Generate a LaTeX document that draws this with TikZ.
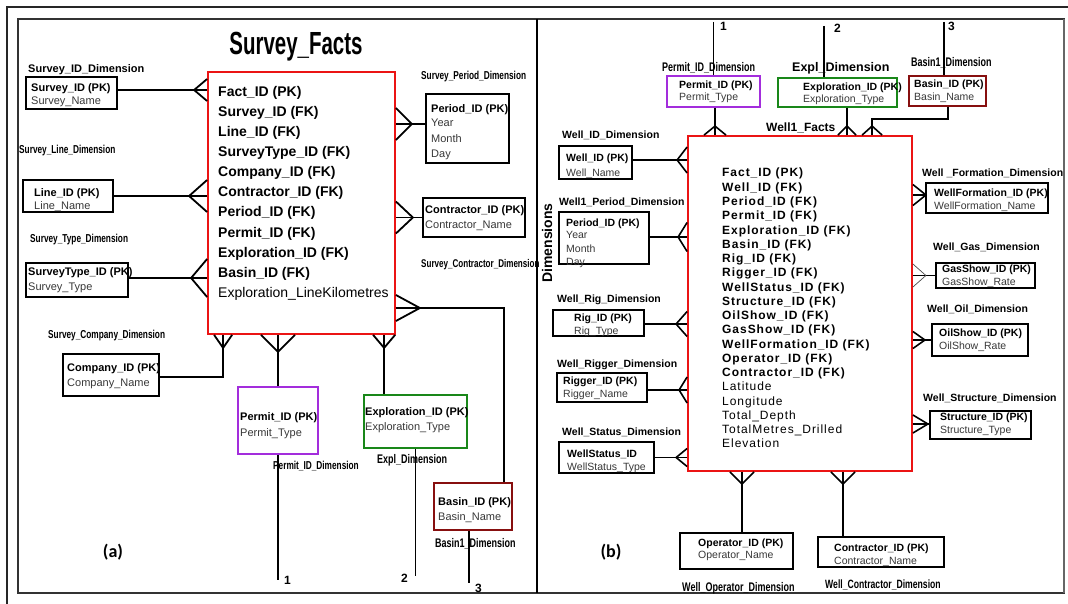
\documentclass[tikz,border=0pt]{standalone}
\usepackage{fontspec}
\setmainfont{Liberation Sans}
\newfontfamily\narrowfont[FakeStretch=0.72]{Liberation Sans}
\newfontfamily\titlefont[FakeStretch=0.64]{Liberation Sans}
\newfontfamily\spacedfont[LetterSpace=8]{Liberation Sans}
\newfontfamily\tagfont{Carlito}
\usetikzlibrary{calc}

\definecolor{permitcol}{RGB}{163,45,220}
\definecolor{explcol}{RGB}{25,135,25}
\definecolor{basincol}{RGB}{135,15,15}
\definecolor{subcol}{RGB}{55,55,55}
\definecolor{factcol}{RGB}{235,20,20}

\tikzset{
  every node/.style={inner sep=0pt},
  lkey/.style={anchor=base west, font=\bfseries\fontsize{11}{11}\selectfont},
  lattr/.style={anchor=base west, text=subcol, font=\fontsize{11}{11}\selectfont},
  rkey/.style={anchor=base west, font=\bfseries\fontsize{10.5}{10.5}\selectfont},
  rattr/.style={anchor=base west, text=subcol, font=\fontsize{10.5}{10.5}\selectfont},
  nlabel/.style={anchor=base west, font=\narrowfont\bfseries\fontsize{11.5}{11.5}\selectfont},
  wlabel/.style={anchor=base west, font=\bfseries\fontsize{10.5}{10.5}\selectfont},
  lfield/.style={anchor=base west, font=\bfseries\fontsize{14}{14}\selectfont},
  rfield/.style={anchor=base west, font=\spacedfont\bfseries\fontsize{12}{12}\selectfont},
  num/.style={anchor=base west, font=\bfseries\fontsize{12}{12}\selectfont},
  tag/.style={font=\tagfont\bfseries\fontsize{18}{18}\selectfont},
  lbox/.style={draw, line width=1.8pt},
  rbox/.style={draw, line width=1.5pt},
  factbox/.style={draw=factcol, line width=1.8pt},
  conn/.style={line width=1.8pt},
  rconn/.style={line width=1.6pt},
  pics/crowh/.style 2 args={code={\draw (#1,#2) -- (0,0) -- (#1,-#2);}},
  pics/crowv/.style 2 args={code={\draw (#2,#1) -- (0,0) -- (-#2,#1);}},
}

% entity box given by its corners: name, style, x1, y1, x2, y2
\newcommand{\entity}[6]{%
  \pgfmathsetmacro\ew{#5-#3}\pgfmathsetmacro\eh{#6-#4}%
  \pgfmathsetmacro\ecx{(#3+#5)/2}\pgfmathsetmacro\ecy{(#4+#6)/2}%
  \node[#2, minimum width=\ew pt, minimum height=\eh pt] (#1) at (\ecx,\ecy) {};}

\begin{document}
\begin{tikzpicture}[x=1pt,y=-1pt]
\useasboundingbox (0,0) rectangle (1068,604);

% frames
\draw[line width=2pt, black!85] (7,604) -- (7,7) -- (1068,7);
\draw[line width=1.1pt, black!80] (18,19) rectangle (1064,593);
\draw[line width=2.4pt, black!60] (1064,19) -- (1064,593);
\draw[line width=1.2pt] (537,19) -- (537,593);

% ================= (a) Survey facts =================
\node[anchor=base, font=\titlefont\bfseries\fontsize{32}{32}\selectfont] (title) at (296,55) {Survey\_Facts};
\entity{sfact}{factbox}{208}{72}{395}{334}
\foreach \t [count=\i from 0] in {Fact\_ID (PK), Survey\_ID (FK), Line\_ID (FK), SurveyType\_ID (FK),
  Company\_ID (FK), Contractor\_ID (FK), Period\_ID (FK), Permit\_ID (FK), Exploration\_ID (FK), Basin\_ID (FK)}
  \node[lfield] (sf\i) at (218,{97+20*\i}) {\t};
\node[lfield, font=\fontsize{14}{14}\selectfont] (sfkm) at (218,297) {Exploration\_LineKilometres};

\entity{sidbox}{lbox}{26}{77}{117}{109}
\entity{linebox}{lbox}{23}{180}{113}{212}
\entity{typebox}{lbox}{26}{263}{128}{297}
\entity{compbox}{lbox}{63}{354}{159}{396}
\entity{perbox}{lbox}{426}{94}{509}{163}
\entity{conbox}{lbox}{423}{198}{525}{237}
\entity{pmtbox}{lbox,draw=permitcol}{238}{387}{318}{454}
\entity{expbox}{lbox,draw=explcol}{364}{395}{467}{448}
\entity{basbox}{lbox,draw=basincol}{434}{483}{512}{530}

\node[wlabel, font=\bfseries\fontsize{11}{11}\selectfont] (lsid) at (28,73) {Survey\_ID\_Dimension};
\node[nlabel] (lline) at (19,154) {Survey\_Line\_Dimension};
\node[nlabel] (ltype) at (30,242) {Survey\_Type\_Dimension};
\node[nlabel] (lcomp) at (48,338) {Survey\_Company\_Dimension};
\node[nlabel] (lper) at (421,80) {Survey\_Period\_Dimension};
\node[nlabel, font=\narrowfont\bfseries\fontsize{11.2}{11.2}\selectfont] (lcon) at (421,267) {Survey\_Contractor\_Dimension};
\node[nlabel] (lpmt) at (273,469) {Permit\_ID\_Dimension};
\node[nlabel, font=\narrowfont\bfseries\fontsize{12.5}{12.5}\selectfont] (lexp) at (377,463) {Expl\_Dimension};
\node[nlabel, font=\narrowfont\bfseries\fontsize{12.5}{12.5}\selectfont] (lbas) at (435,547) {Basin1\_Dimension};

\node[lkey] (sidk) at (31,92) {Survey\_ID (PK)};
\node[lattr] (sida) at (31,105) {Survey\_Name};
\node[lkey] (linek) at (34,197) {Line\_ID (PK)};
\node[lattr] (linea) at (34,210) {Line\_Name};
\node[lkey] (typek) at (28,275) {SurveyType\_ID (PK)};
\node[lattr] (typea) at (28,290) {Survey\_Type};
\node[lkey] (compk) at (67,371) {Company\_ID (PK)};
\node[lattr] (compa) at (67,386) {Company\_Name};
\node[lkey] (perk) at (431,113) {Period\_ID (PK)};
\node[lattr] (pera) at (431,127) {Year};
\node[lattr] (perb) at (431,143) {Month};
\node[lattr] (perc) at (431,158) {Day};
\node[lkey] (conk) at (425,214) {Contractor\_ID (PK)};
\node[lattr] (cona) at (425,229) {Contractor\_Name};
\node[lkey] (pmtk) at (240,420) {Permit\_ID (PK)};
\node[lattr] (pmta) at (240,436) {Permit\_Type};
\node[lkey] (expk) at (365,415) {Exploration\_ID (PK)};
\node[lattr] (expa) at (365,430) {Exploration\_Type};
\node[lkey] (bask) at (438,505) {Basin\_ID (PK)};
\node[lattr] (basa) at (438,520) {Basin\_Name};

% connectors of the survey star
\draw[conn] ($(sidbox.east)+(0,-3)$) -- ($(sidbox.east -| sfact.west)+(0,-3)$);
\pic[conn] at ($(sidbox.east -| sfact.west)+(-13,-3)$) {crowh={13}{11}};
\draw[conn] (linebox.east) -- (linebox.east -| sfact.west);
\pic[conn] at ($(linebox.east -| sfact.west)+(-18,0)$) {crowh={18}{16}};
\draw[conn] ($(typebox.east)+(0,-2)$) -- ($(typebox.east -| sfact.west)+(0,-2)$);
\pic[conn] at ($(typebox.east -| sfact.west)+(-16,-2)$) {crowh={16}{19}};
\draw[conn] ($(compbox.east)+(0,2)$) -| ($(sfact.south west)+(16,0)$);
\pic[conn] at ($(sfact.south west)+(16,13)$) {crowv={-13}{9}};
\draw[conn] ($(perbox.west)+(0,-4.5)$) -- ($(perbox.west -| sfact.east)+(0,-4.5)$);
\pic[conn] at ($(perbox.west -| sfact.east)+(16,-4.5)$) {crowh={-16}{16}};
\draw[conn] (conbox.west) -- (conbox.west -| sfact.east);
\pic[conn] at ($(conbox.west -| sfact.east)+(17,0)$) {crowh={-17}{16}};
\draw[conn] ($(sfact.east)+(0,105)$) -| ($(basbox.north east)+(-9,0)$);
\pic[conn] at ($(sfact.east)+(24,105)$) {crowh={-24}{13}};
\draw[conn] (pmtbox.north) -- (pmtbox.north |- sfact.south);
\pic[conn] at ($(pmtbox.north |- sfact.south)+(0,17)$) {crowv={-17}{17}};
\draw[conn] ($(expbox.north west)+(21,0)$) -- ($(expbox.north west |- sfact.south)+(21,0)$);
\pic[conn] at ($(expbox.north west |- sfact.south)+(21,13)$) {crowv={-13}{11}};

% links continued in panel (b)
\coordinate (end1) at (278,580);
\coordinate (end2) at (415.5,576);
\coordinate (end3) at (469,583);
\draw[conn] (pmtbox.south) -- (end1);
\draw[line width=1.2pt] (expbox.south) -- (end2);
\draw[line width=1.5pt] ($(basbox.south)+(-4,0)$) -- (end3);
\node[num] (n1) at (284,584) {1};
\node[num] (n2) at (401,582) {2};
\node[num] (n3) at (475,592) {3};

\node[tag] (taga) at (113,552) {(a)};

% ================= (b) Well facts =================
\entity{wfact}{factbox}{688}{136}{912}{471}
\node[wlabel, font=\bfseries\fontsize{12}{12}\selectfont] (lwf) at (766,132) {Well1\_Facts};
\foreach \t [count=\i from 0] in {Fact\_ID (PK), Well\_ID (FK), Period\_ID (FK), Permit\_ID (FK),
  Exploration\_ID (FK), Basin\_ID (FK), Rig\_ID (FK), Rigger\_ID (FK), WellStatus\_ID (FK),
  Structure\_ID (FK), OilShow\_ID (FK), GasShow\_ID (FK), WellFormation\_ID (FK),
  Operator\_ID (FK), Contractor\_ID (FK)}
  \node[rfield] (wf\i) at (722,{177+14.25*\i}) {\t};
\foreach \t [count=\i from 15] in {Latitude, Longitude, Total\_Depth, TotalMetres\_Drilled, Elevation}
  \node[rfield, font=\spacedfont\fontsize{12}{12}\selectfont] (wf\i) at (722,{177+14.25*\i}) {\t};

\entity{rpmt}{rbox,draw=permitcol}{667}{76}{760}{107}
\entity{rexp}{rbox,draw=explcol}{778}{78}{897}{107}
\entity{rbas}{rbox,draw=basincol}{909}{76}{986}{106}
\entity{wid}{rbox}{559}{146}{632}{179}
\entity{wper}{rbox}{559}{212}{649}{264}
\entity{wrig}{rbox}{553}{310}{644}{336}
\entity{wrgr}{rbox}{557}{373}{647}{402}
\entity{wst}{rbox}{559}{442}{654}{473}
\entity{wfm}{rbox}{926}{183}{1048}{213}
\entity{wgas}{rbox}{936}{263}{1035}{288}
\entity{woil}{rbox}{932}{324}{1028}{356}
\entity{wstr}{rbox}{930}{411}{1031}{439}
\entity{wop}{rbox}{680}{533}{793}{569}
\entity{wcon}{rbox}{818}{537}{944}{567}

\node[nlabel, font=\narrowfont\bfseries\fontsize{12.5}{12.5}\selectfont] (lrpmt) at (662,72) {Permit\_ID\_Dimension};
\node[wlabel, font=\bfseries\fontsize{12.5}{12.5}\selectfont] (lrexp) at (792,72) {Expl\_Dimension};
\node[nlabel, font=\narrowfont\bfseries\fontsize{12.5}{12.5}\selectfont] (lrbas) at (911,67) {Basin1\_Dimension};
\node[wlabel] (lwid) at (562,139) {Well\_ID\_Dimension};
\node[wlabel] (lwper) at (559,206) {Well1\_Period\_Dimension};
\node[wlabel] (lwrig) at (557,302) {Well\_Rig\_Dimension};
\node[wlabel] (lwrgr) at (557,367) {Well\_Rigger\_Dimension};
\node[wlabel] (lwst) at (562,435) {Well\_Status\_Dimension};
\node[wlabel] (lwfm) at (922,177) {Well \_Formation\_Dimension};
\node[wlabel] (lwgas) at (933,251) {Well\_Gas\_Dimension};
\node[wlabel] (lwoil) at (927,312) {Well\_Oil\_Dimension};
\node[wlabel] (lwstr) at (923,401) {Well\_Structure\_Dimension};
\node[nlabel, font=\narrowfont\bfseries\fontsize{12.5}{12.5}\selectfont] (lwop) at (682,591) {Well\_Operator\_Dimension};
\node[nlabel, font=\narrowfont\bfseries\fontsize{12}{12}\selectfont] (lwcon) at (825,588) {Well\_Contractor\_Dimension};
\node[rotate=90, font=\bfseries\fontsize{14}{14}\selectfont] (ldim) at (547,243) {Dimensions};

\node[rkey] (rpmtk) at (679,89) {Permit\_ID (PK)};
\node[rattr] (rpmta) at (679,101) {Permit\_Type};
\node[rkey] (rexpk) at (803,91) {Exploration\_ID (PK)};
\node[rattr] (rexpa) at (803,103) {Exploration\_Type};
\node[rkey] (rbask) at (914,88) {Basin\_ID (PK)};
\node[rattr] (rbasa) at (914,101) {Basin\_Name};
\node[rkey] (widk) at (566,162) {Well\_ID (PK)};
\node[rattr] (wida) at (566,177) {Well\_Name};
\node[rkey] (wperk) at (566,226) {Period\_ID (PK)};
\node[rattr] (wpera) at (566,238) {Year};
\node[rattr] (wperb) at (566,252) {Month};
\node[rattr] (wperc) at (566,265) {Day};
\node[rkey] (wrigk) at (574,321) {Rig\_ID (PK)};
\node[rattr] (wriga) at (574,334) {Rig\_Type};
\node[rkey] (wrgrk) at (563,384) {Rigger\_ID (PK)};
\node[rattr] (wrgra) at (563,397) {Rigger\_Name};
\node[rkey] (wstk) at (567,457) {WellStatus\_ID};
\node[rattr] (wsta) at (567,470) {WellStatus\_Type};
\node[rkey] (wfmk) at (934,197) {WellFormation\_ID (PK)};
\node[rattr] (wfma) at (934,210) {WellFormation\_Name};
\node[rkey] (wgask) at (942,272) {GasShow\_ID (PK)};
\node[rattr] (wgasa) at (942,285) {GasShow\_Rate};
\node[rkey] (woilk) at (939,336) {OilShow\_ID (PK)};
\node[rattr] (woila) at (939,349) {OilShow\_Rate};
\node[rkey] (wstrk) at (940,420) {Structure\_ID (PK)};
\node[rattr] (wstra) at (940,433) {Structure\_Type};
\node[rkey] (wopk) at (698,546) {Operator\_ID (PK)};
\node[rattr] (wopa) at (698,558) {Operator\_Name};
\node[rkey] (wconk) at (834,551) {Contractor\_ID (PK)};
\node[rattr] (wcona) at (834,564) {Contractor\_Name};

% links arriving from panel (a)
\coordinate (top1) at (713.5,22);
\coordinate (top2) at (824,26);
\coordinate (top3) at (944,22);
\draw[rconn] (top1) -- (rpmt.north);
\draw[rconn] (top2) -- (top2 |- rexp.north);
\draw[rconn] (top3) -- (top3 |- rbas.north);
\node[num] (m1) at (720,31) {1};
\node[num] (m2) at (834,33) {2};
\node[num] (m3) at (948,31) {3};

% connectors of the well star
\draw[rconn] ($(rpmt.south)+(1.5,0)$) -- ($(rpmt.south |- wfact.north)+(1.5,0)$);
\pic[rconn] at ($(rpmt.south |- wfact.north)+(1.5,-9)$) {crowv={9}{11}};
\draw[rconn] ($(rexp.south)+(9.5,0)$) -- ($(rexp.south |- wfact.north)+(9.5,0)$);
\pic[rconn] at ($(rexp.south |- wfact.north)+(9.5,-9)$) {crowv={9}{9}};
\draw[rconn] ($(rbas.south)+(0.5,0)$) -- ++(0,12) -| ($(wfact.north west)+(185,0)$);
\pic[rconn] at ($(wfact.north west)+(185,-9)$) {crowv={9}{10}};

\draw[rconn] ($(wid.east)+(0,-2.5)$) -- ($(wid.east -| wfact.west)+(0,-2.5)$);
\pic[rconn] at ($(wid.east -| wfact.west)+(-10,-2.5)$) {crowh={10}{13}};
\draw[rconn] ($(wper.east)+(0,-1)$) -- ($(wper.east -| wfact.west)+(0,-1)$);
\pic[rconn] at ($(wper.east -| wfact.west)+(-9,-1)$) {crowh={9}{14.5}};
\draw[rconn] ($(wrig.east)+(0,1)$) -- ($(wrig.east -| wfact.west)+(0,1)$);
\pic[rconn] at ($(wrig.east -| wfact.west)+(-11,1)$) {crowh={11}{12.5}};
\draw[rconn] ($(wrgr.east)+(0,2.5)$) -- ($(wrgr.east -| wfact.west)+(0,2.5)$);
\pic[rconn] at ($(wrgr.east -| wfact.west)+(-8,2.5)$) {crowh={8}{13}};
\draw[rconn] (wst.east) -- (wst.east -| wfact.west);
\pic[rconn] at ($(wst.east -| wfact.west)+(-11,0)$) {crowh={11}{9}};

\draw[rconn] ($(wfm.west)+(0,-3)$) -- ($(wfm.west -| wfact.east)+(0,-3)$);
\pic[rconn] at ($(wfm.west -| wfact.east)+(13,-3)$) {crowh={-13}{10.5}};
\draw[rconn] (wgas.west) -- (wgas.west -| wfact.east);
\pic[line width=0.7pt, black!70] at ($(wgas.west -| wfact.east)+(13,0)$) {crowh={-13}{11.5}};
\draw[rconn] (woil.west) -- (woil.west -| wfact.east);
\pic[rconn] at ($(woil.west -| wfact.east)+(12,0)$) {crowh={-12}{8.5}};
\draw[rconn] ($(wstr.west)+(0,-1)$) -- ($(wstr.west -| wfact.east)+(0,-1)$);
\pic[rconn] at ($(wstr.west -| wfact.east)+(15,-1)$) {crowh={-15}{9}};

\draw[rconn] ($(wop.north)+(5.5,0)$) -- ($(wop.north |- wfact.south)+(5.5,0)$);
\pic[rconn] at ($(wop.north |- wfact.south)+(5.5,12)$) {crowv={-12}{12}};
\draw[rconn] ($(wcon.north)+(-38,0)$) -- ($(wcon.north |- wfact.south)+(-38,0)$);
\pic[rconn] at ($(wcon.north |- wfact.south)+(-38,12)$) {crowv={-12}{12}};

\node[tag] (tagb) at (611,552) {(b)};
\end{tikzpicture}
\end{document}
